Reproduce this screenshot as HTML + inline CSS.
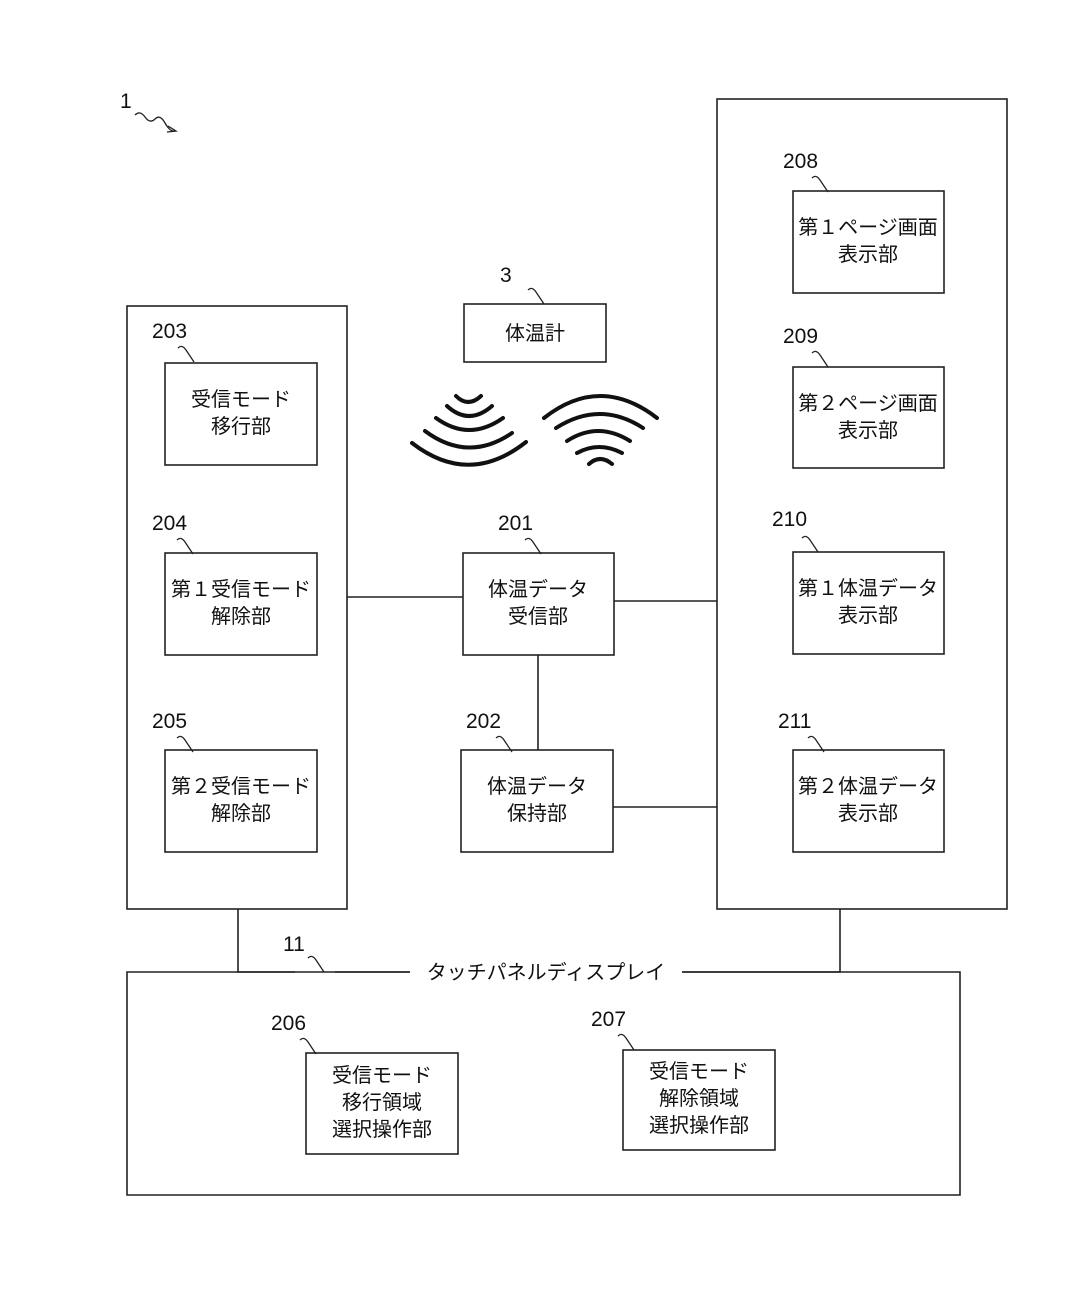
<!DOCTYPE html>
<html><head><meta charset="utf-8"><style>
body{margin:0;background:#fff}
svg text{font-family:"Liberation Sans","Noto Sans CJK JP",sans-serif;fill:#111}
</style></head><body>
<svg width="1071" height="1307" viewBox="0 0 1071 1307" xmlns="http://www.w3.org/2000/svg">
<g fill="none" stroke="#222" stroke-width="1.6">
<rect x="127" y="306" width="220" height="603"/>
<rect x="717" y="99" width="290" height="810"/>
<path d="M410 972 H127 V1195 H960 V972 H682"/>
<rect x="165" y="363" width="152" height="102"/>
<rect x="165" y="553" width="152" height="102"/>
<rect x="165" y="750" width="152" height="102"/>
<rect x="463" y="553" width="151" height="102"/>
<rect x="461" y="750" width="152" height="102"/>
<rect x="464" y="304" width="142" height="58"/>
<rect x="793" y="191" width="151" height="102"/>
<rect x="793" y="367" width="151" height="101"/>
<rect x="793" y="552" width="151" height="102"/>
<rect x="793" y="750" width="151" height="102"/>
<rect x="306" y="1053" width="152" height="101"/>
<rect x="623" y="1050" width="152" height="100"/>
<path d="M347 597 H463 M538 655 V750 M614 601 H717 M613 807 H717 M238 909 V972 H295 M840 909 V972 H682 M335 972 H410"/>
</g>
<g fill="none" stroke="#222" stroke-width="1.3">
<path d="M135 115 q5 -5 10 2 t10 2 t10 4 t10 8"/><path d="M168 126 l8 5 l-9 1"/>
<path d="M528 290 q4 -4 8 2 t8 12"/>
<path d="M178 348 q4 -4 8 2 t8 12"/>
<path d="M177 540 q4 -4 8 2 t8 12"/>
<path d="M177 738 q4 -4 8 2 t8 12"/>
<path d="M525 540 q4 -4 8 2 t8 12"/>
<path d="M496 738 q4 -4 8 2 t8 12"/>
<path d="M812 178 q4 -4 8 2 t8 12"/>
<path d="M812 353 q4 -4 8 2 t8 12"/>
<path d="M802 538 q4 -4 8 2 t8 12"/>
<path d="M808 738 q4 -4 8 2 t8 12"/>
<path d="M308 958 q4 -4 8 2 t8 12"/>
<path d="M300 1040 q4 -4 8 2 t8 12"/>
<path d="M618 1036 q4 -4 8 2 t8 12"/>
</g>
<g fill="none" stroke="#111" stroke-width="4" stroke-linecap="round">
<path d="M456 396 Q468 408 481 396"/>
<path d="M447 406 Q469 426 492 406"/>
<path d="M436 418 Q469 442 503 418"/>
<path d="M425 431 Q468 463 512 433"/>
<path d="M412 443 Q469 487 526 442"/>
<path d="M544 418 Q600 374 657 418"/>
<path d="M556 428 Q600 400 643 428"/>
<path d="M567 441 Q598 421 630 441"/>
<path d="M577 453 Q599 441 622 453"/>
<path d="M589 464 Q600 454 612 464"/>
</g>
<g font-size="21">
<text x="120" y="108">1</text>
<text x="500" y="282">3</text>
<text x="152" y="338">203</text>
<text x="152" y="530">204</text>
<text x="152" y="728">205</text>
<text x="498" y="530">201</text>
<text x="466" y="728">202</text>
<text x="783" y="168">208</text>
<text x="783" y="343">209</text>
<text x="772" y="526">210</text>
<text x="778" y="728">211</text>
<text x="283" y="951">11</text>
<text x="271" y="1030">206</text>
<text x="591" y="1026">207</text>
</g>
<g font-size="20" text-anchor="middle">
<text x="535" y="340">体温計</text>
<text x="241" y="406">受信モード</text><text x="241" y="433">移行部</text>
<text x="241" y="596">第１受信モード</text><text x="241" y="623">解除部</text>
<text x="241" y="793">第２受信モード</text><text x="241" y="820">解除部</text>
<text x="538" y="596">体温データ</text><text x="538" y="623">受信部</text>
<text x="537" y="793">体温データ</text><text x="537" y="820">保持部</text>
<text x="868" y="234">第１ページ画面</text><text x="868" y="261">表示部</text>
<text x="868" y="410">第２ページ画面</text><text x="868" y="437">表示部</text>
<text x="868" y="595">第１体温データ</text><text x="868" y="622">表示部</text>
<text x="868" y="793">第２体温データ</text><text x="868" y="820">表示部</text>
<text x="546" y="979">タッチパネルディスプレイ</text>
<text x="382" y="1082">受信モード</text><text x="382" y="1109">移行領域</text><text x="382" y="1136">選択操作部</text>
<text x="699" y="1078">受信モード</text><text x="699" y="1105">解除領域</text><text x="699" y="1132">選択操作部</text>
</g>
</svg>
</body></html>
